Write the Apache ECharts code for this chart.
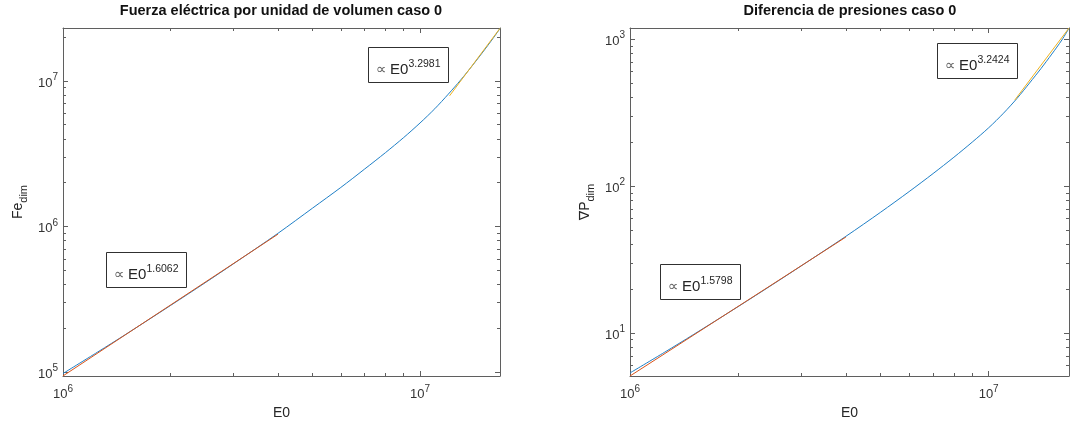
<!DOCTYPE html>
<html><head><meta charset="utf-8">
<script src="https://cdn.jsdelivr.net/npm/echarts@6/dist/echarts.min.js"></script>
<style>html,body{margin:0;padding:0;background:#fff}#c{width:1072px;height:425px}</style>
</head><body><div id="c"></div>
<script>
// ---- data ----
const E0 = [1e6,1.25e6,1.5e6,2e6,2.5e6,3e6,4e6,5e6,6e6,7e6,8e6,9e6,1e7,1.1e7,1.2e7,1.3e7,1.4e7,1.5e7,1.6e7,1.675e7];
const feDim = [9.77e4,1.371e5,1.816e5,2.864e5,4.102e5,5.534e5,8.97e5,1.337e6,1.854e6,2.483e6,3.214e6,4.083e6,5.14e6,6.44e6,8.11e6,1.015e7,1.27e7,1.58e7,1.955e7,2.29e7];
const dpDim = [5.35,7.41,9.73,15.1,21.4,28.6,45.5,66.4,91.6,121.6,157,199,249,313,395,502,631,790,985,1185];
const feFitLowE0 = [1e6,4e6],         feFitLow = [9.4e4,8.85e5];
const feFitHighE0 = [1.21e7,1.675e7], feFitHigh = [7.9e6,2.3e7];
const dpFitLowE0 = [1e6,4e6],         dpFitLow = [5.1,45.0];
const dpFitHighE0 = [1.183e7,1.675e7], dpFitHigh = [385,1189];
const xLim = [1e6,1.675e7];
const feLim = [9.39e4,2.31e7];
const dpLim = [5.10,1189];
const titles = ['Fuerza eléctrica por unidad de volumen caso 0','Diferencia de presiones caso 0'];
const yNames = [['Fe','dim'],['\u2207P','dim']];
const xName = 'E0';
const feExps = ['1.6062','3.2981'];
const dpExps = ['1.5798','3.2424'];

// ---- helpers ----
const L = Math.log10;
const FONT = '"Liberation Sans", Arial, "DejaVu Sans", sans-serif';
const AX = '#5f5f5f';
const TXT = '#262626';
function majors(lim){const r=[];for(let e=Math.ceil(L(lim[0])-1e-9);e<=L(lim[1])+1e-9;e++)r.push(e);return r;}
function minors(lim){const r=[];for(let e=Math.floor(L(lim[0]));e<=Math.ceil(L(lim[1]));e++)for(let k=2;k<=9;k++){const v=e+L(k);if(v>=L(lim[0])&&v<=L(lim[1]))r.push(v);}return r;}
const labRich = {
  b:{fontSize:13,color:'#333',fontFamily:FONT,verticalAlign:'bottom',lineHeight:15},
  s:{fontSize:10,color:'#333',fontFamily:FONT,verticalAlign:'bottom',padding:[0,0,7,0]}
};
function fmt(v){return '{b|10}{s|'+Math.round(v)+'}';}

function axes(gi, lim, isX, name){
  const out=[];
  const pos = isX ? ['bottom','top'] : ['left','right'];
  pos.forEach((p,pi)=>{
    [true,false].forEach(major=>{
      const a = {
        type:'value', gridIndex:gi, position:p,
        min:L(lim[0]), max:L(lim[1]),
        axisLine:{show:major,onZero:false,lineStyle:{color:AX,width:1}},
        axisTick:{show:true,inside:true,length:major?5:3,customValues:major?majors(lim):minors(lim),lineStyle:{color:AX,width:1}},
        axisLabel:{show:major&&pi===0,customValues:majors(lim),formatter:fmt,rich:labRich,margin:isX?8:5},
        splitLine:{show:false}
      };
      if(major&&pi===0){
        if(isX){
          a.name=xName;a.nameLocation='middle';a.nameGap=30;
          a.nameTextStyle={fontSize:14,color:TXT,fontFamily:FONT};
        } else {
          a.name='{a|'+name[0]+'}{b|'+name[1]+'}';a.nameLocation='middle';a.nameGap=34;a.nameRotate=90;
          a.nameTextStyle={rich:{
            a:{fontSize:14,color:TXT,fontFamily:FONT,verticalAlign:'top',lineHeight:16},
            b:{fontSize:11,color:TXT,fontFamily:FONT,verticalAlign:'top',padding:[7,0,0,0]}
          }};
        }
      }
      out.push(a);
    });
  });
  return out;
}
function pts(xs,ys){return xs.map((x,i)=>[L(x),L(ys[i])]);}
function line(gi,data,color,smooth){
  return {type:'line',xAxisIndex:gi*4,yAxisIndex:gi*4,data:data,showSymbol:false,symbol:'none',
    smooth:smooth?0.3:false,lineStyle:{color:color,width:1},itemStyle:{color:color},silent:true,clip:true,animation:false};
}
function box(x,y,exp){
  return {type:'group',x:x,y:y,children:[
    {type:'rect',shape:{x:0.5,y:0.5,width:80,height:35},style:{fill:'#fff',stroke:'#303030',lineWidth:1},z:100},
    {type:'text',x:8,y:21,z:101,style:{
      text:'{p|\u221D} {e|E0}{s|'+exp+'}',verticalAlign:'middle',
      rich:{
        p:{fontSize:15,fill:'#666',fontFamily:'"DejaVu Sans", sans-serif',verticalAlign:'bottom'},
        e:{fontSize:15,fill:TXT,fontFamily:FONT,verticalAlign:'bottom',lineHeight:17},
        s:{fontSize:10.5,fill:TXT,fontFamily:FONT,verticalAlign:'bottom',padding:[0,0,8,0]}
      }}}
  ]};
}
function ttl(x,t){return {type:'text',x:x,y:11,style:{text:t,fontSize:14.5,fontWeight:'bold',fill:'#111',fontFamily:FONT,textAlign:'center',verticalAlign:'middle'}};}

const B = '#1f7fc6', R = '#D95319', Y = '#EDB120';
const option = {
  animation:false,
  backgroundColor:'#fff',
  grid:[
    {left:63,right:572,top:28,bottom:49,containLabel:false},
    {left:630,right:3,top:28,bottom:49,containLabel:false}
  ],
  xAxis:[...axes(0,xLim,true),...axes(1,xLim,true)],
  yAxis:[...axes(0,feLim,false,yNames[0]),...axes(1,dpLim,false,yNames[1])],
  series:[
    line(0,pts(E0,feDim),B,true),
    line(0,pts(feFitLowE0,feFitLow),R,false),
    line(0,pts(feFitHighE0,feFitHigh),Y,false),
    line(1,pts(E0,dpDim),B,true),
    line(1,pts(dpFitLowE0,dpFitLow),R,false),
    line(1,pts(dpFitHighE0,dpFitHigh),Y,false)
  ],
  graphic:[
    ttl(281,titles[0]), ttl(850,titles[1]),
    box(368,47,feExps[1]), box(106,252,feExps[0]),
    box(937,43,dpExps[1]), box(660,264,dpExps[0])
  ]
};
const chart = echarts.init(document.getElementById('c'),null,{renderer:'canvas'});
chart.setOption(option);
</script>
</body></html>
